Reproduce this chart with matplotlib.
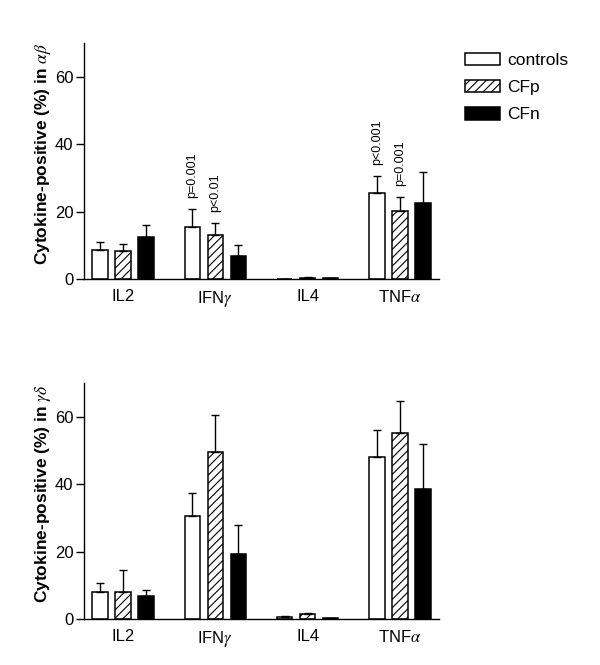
import matplotlib
matplotlib.use("Agg")
import matplotlib.pyplot as plt
import numpy as np

plt.rcParams['font.family'] = ['Liberation Sans', 'DejaVu Sans']
plt.rcParams['mathtext.fontset'] = 'stix'
plt.rcParams['hatch.linewidth'] = 0.8
plt.rcParams['hatch.color'] = '#333333'

cytokines = [r'IL2', r'IFN$\gamma$', r'IL4', r'TNF$\alpha$']
groups = ['controls', 'CFp', 'CFn']

# alpha-beta T cells
ab_controls = [8.6, 15.5, 0.1, 25.6]
ab_controls_err = [2.3, 5.1, 0.0, 4.8]
ab_cfp = [8.2, 13.1, 0.4, 20.3]
ab_cfp_err = [2.3, 3.4, 0.2, 4.1]
ab_cfn = [12.4, 6.7, 0.2, 22.6]
ab_cfn_err = [3.6, 3.4, 0.0, 9.1]

# gamma-delta T cells
gd_controls = [7.9, 30.6, 0.6, 48.0]
gd_controls_err = [2.8, 6.7, 0.4, 8.1]
gd_cfp = [7.9, 49.4, 1.4, 55.1]
gd_cfp_err = [6.7, 11.0, 0.5, 9.5]
gd_cfn = [6.9, 19.3, 0.2, 38.5]
gd_cfn_err = [1.6, 8.5, 0.0, 13.3]

# p-value annotations (top panel): (cytokine index, group index, text)
pvals = [(1, 0, 'p=0.001'), (1, 1, 'p<0.01'), (3, 0, 'p<0.001'), (3, 1, 'p=0.001')]

fig = plt.figure(figsize=(6.0, 6.65), dpi=100)
ax1 = fig.add_axes([0.14, 0.5805, 0.592, 0.355])
ax2 = fig.add_axes([0.14, 0.0692, 0.592, 0.355])

x = np.arange(len(cytokines))
offsets = [-0.249, 0.0, 0.249]
width = 0.166
styles = [dict(facecolor='white', hatch=None),
          dict(facecolor='white', hatch='////'),
          dict(facecolor='black', hatch=None)]


def draw(ax, series, errs, ylabel):
    handles = []
    for i, (vals, err) in enumerate(zip(series, errs)):
        b = ax.bar(x + offsets[i], vals, width, edgecolor='black', linewidth=1.1,
                   label=groups[i], **styles[i], zorder=2)
        ax.errorbar(x + offsets[i], vals, yerr=[np.zeros(len(vals)), err], fmt='none',
                    ecolor='black', elinewidth=1.0, capsize=3.2, capthick=1.0, zorder=3)
        handles.append(b)
    ax.set_xlim(-0.423, 3.423)
    ax.set_ylim(0, 70)
    ax.set_yticks([0, 20, 40, 60])
    ax.set_xticks(x)
    ax.set_xticklabels(cytokines)
    ax.spines['top'].set_visible(False)
    ax.spines['right'].set_visible(False)
    ax.spines['left'].set_linewidth(1.0)
    ax.spines['bottom'].set_linewidth(1.0)
    ax.tick_params(axis='y', direction='out', length=6, width=1.0, pad=1.5, labelsize=12)
    ax.tick_params(axis='x', length=0, pad=7, labelsize=12)
    ax.set_ylabel(ylabel, fontsize=12.5, fontweight='bold')
    ax.yaxis.set_label_coords(-0.088, 0.53)
    return handles


h = draw(ax1, [ab_controls, ab_cfp, ab_cfn], [ab_controls_err, ab_cfp_err, ab_cfn_err],
         r'Cytokine-positive (%) in $\alpha\beta$')
draw(ax2, [gd_controls, gd_cfp, gd_cfn], [gd_controls_err, gd_cfp_err, gd_cfn_err],
     r'Cytokine-positive (%) in $\gamma\delta$')

allv = [ab_controls, ab_cfp, ab_cfn]
alle = [ab_controls_err, ab_cfp_err, ab_cfn_err]
for ci, gi, txt in pvals:
    top = allv[gi][ci] + alle[gi][ci]
    ax1.text(x[ci] + offsets[gi], top + 3.3, txt, rotation=90, ha='center', va='bottom',
             fontsize=9)

fig.legend(h, groups, loc='upper left', bbox_to_anchor=(0.775, 0.921), frameon=False,
           fontsize=12.5, handlelength=2.0, handleheight=0.75, handletextpad=0.45,
           labelspacing=0.68, borderpad=0, borderaxespad=0)

fig.savefig('out.png', dpi=100)
